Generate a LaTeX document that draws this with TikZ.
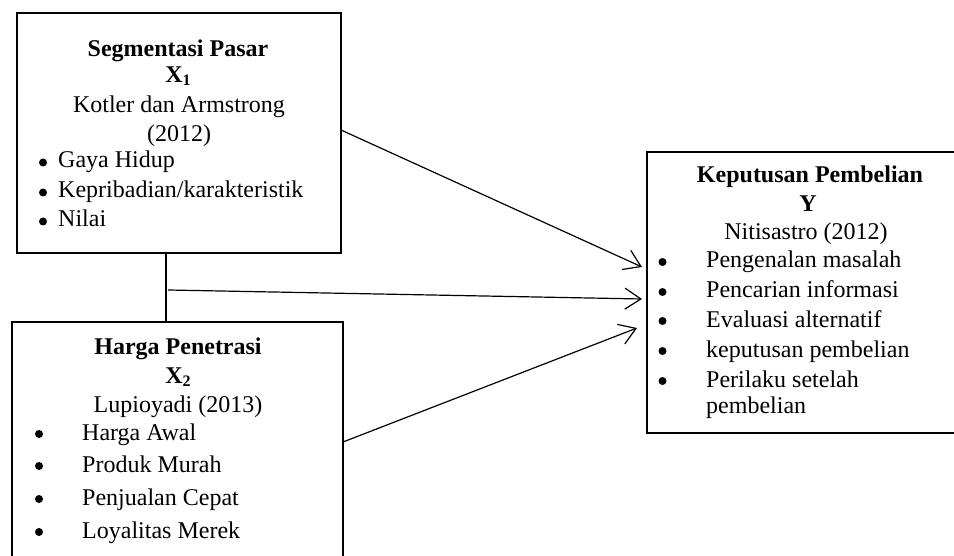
\documentclass[tikz,border=0pt]{standalone}
\usepackage{fontspec}
\setmainfont{Liberation Serif}
\usetikzlibrary{arrows.meta}
\tikzset{
  box/.style={draw, line width=2.4pt, rectangle, inner sep=0pt},
  conn/.style={line width=1.2pt},
  arr/.style={line width=1.2pt, -{Straight Barb[length=16pt,width=21pt]}},
  ctext/.style={anchor=base, inner sep=0pt, font=\fontsize{24}{28}\selectfont},
  ltext/.style={anchor=base west, inner sep=0pt, font=\fontsize{24}{28}\selectfont},
  btitle/.style={ctext, font=\fontsize{24}{28}\selectfont\bfseries},
  dot/.style={circle, fill=black, inner sep=0pt, minimum size=8pt},
}
\newcommand{\subidx}[1]{\raisebox{-3pt}{\fontsize{16}{16}\selectfont #1}}
\begin{document}
\begin{tikzpicture}[x=1pt,y=-1pt]
\clip (0,0) rectangle (954,556);
\fill[white] (0,0) rectangle (954,556);
% boxes
\node[box, minimum width=324pt, minimum height=240pt] (x1) at (179,133) {};
\node[box, minimum width=331pt, minimum height=278pt] (x2) at (177.5,461) {};
\node[box, minimum width=353pt, minimum height=281pt] (y) at (823.5,292.5) {};
% box 1 text
\node[btitle] (t1a) at (178,57) {Segmentasi Pasar};
\node[btitle] (t1b) at (178,83) {X\subidx{1}};
\node[ctext] (t1c) at (179,113) {Kotler dan Armstrong};
\node[ctext] (t1d) at (179,142) {(2012)};
\node[dot] (b1a) at (43,162.5) {};
\node[dot] (b1b) at (43,192.5) {};
\node[dot] (b1c) at (43,221.5) {};
\node[ltext] (i1a) at (58,168) {Gaya Hidup};
\node[ltext] (i1b) at (58,198) {Kepribadian/karakteristik};
\node[ltext] (i1c) at (58,227) {Nilai};
% box 2 text
\node[btitle] (t2a) at (178,355) {Harga Penetrasi};
\node[btitle] (t2b) at (178,383) {X\subidx{2}};
\node[ctext] (t2c) at (178,412) {Lupioyadi (2013)};
\node[dot] (b2a) at (39,434) {};
\node[dot] (b2b) at (39,466) {};
\node[dot] (b2c) at (39,499) {};
\node[dot] (b2d) at (39,532) {};
\node[ltext] (i2a) at (82,440) {Harga Awal};
\node[ltext] (i2b) at (82,472) {Produk Murah};
\node[ltext] (i2c) at (82,505) {Penjualan Cepat};
\node[ltext] (i2d) at (82,538) {Loyalitas Merek};
% box 3 text
\node[btitle] (t3a) at (810,183) {Keputusan Pembelian};
\node[btitle] (t3b) at (808,212) {Y};
\node[ctext] (t3c) at (806,240) {Nitisastro (2012)};
\node[dot] (b3a) at (662.5,262) {};
\node[dot] (b3b) at (662.5,292) {};
\node[dot] (b3c) at (662.5,321) {};
\node[dot] (b3d) at (662.5,351) {};
\node[dot] (b3e) at (662.5,381) {};
\node[ltext] (i3a) at (706,268) {Pengenalan masalah};
\node[ltext] (i3b) at (706,298) {Pencarian informasi};
\node[ltext] (i3c) at (706,327) {Evaluasi alternatif};
\node[ltext] (i3d) at (706,357) {keputusan pembelian};
\node[ltext] (i3e) at (706,387) {Perilaku setelah};
\node[ltext] (i3f) at (706,413) {pembelian};
% connector points
\coordinate (a1s) at (341,130);
\coordinate (a1e) at (642,267);
\coordinate (a2s) at (168,290);
\coordinate (a2e) at (642,299);
\coordinate (a3s) at (343,442);
\coordinate (a3e) at (637,328);
% connectors
\draw[conn] (x1.south -| 166,0) -- (x2.north -| 166,0);
\draw[arr] (a1s) -- (a1e);
\draw[arr] (a2s) -- (a2e);
\draw[arr] (a3s) -- (a3e);
\end{tikzpicture}
\end{document}
